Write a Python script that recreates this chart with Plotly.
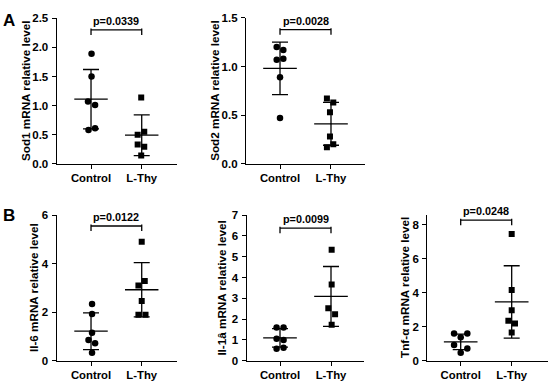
import plotly.graph_objects as go

# ---------------- data ----------------
groups = ["Control", "L-Thy"]

sod1_control = [1.89, 1.50, 1.07, 1.01, 0.58, 0.61]
sod1_lthy = [1.14, 0.55, 0.50, 0.33, 0.29, 0.14]
sod1_mean = [1.11, 0.49]
sod1_sd = [0.51, 0.35]

sod2_control = [1.20, 1.17, 1.07, 1.08, 0.89, 0.47]
sod2_lthy = [0.67, 0.63, 0.53, 0.28, 0.20, 0.17]
sod2_mean = [0.98, 0.41]
sod2_sd = [0.27, 0.22]

il6_control = [2.34, 1.93, 1.16, 0.86, 0.72, 0.33]
il6_lthy = [4.91, 3.29, 3.11, 2.47, 1.90, 1.90]
il6_mean = [1.22, 2.93]
il6_sd = [0.76, 1.12]

il1_control = [1.60, 1.60, 1.06, 1.00, 0.58, 0.62]
il1_lthy = [5.33, 3.66, 2.52, 2.24, 1.73]
il1_mean = [1.10, 3.09]
il1_sd = [0.44, 1.44]

tnf_control = [1.61, 1.61, 1.38, 0.93, 0.72, 0.47]
tnf_lthy = [7.45, 4.16, 2.97, 2.36, 2.19, 1.66]
tnf_mean = [1.11, 3.46]
tnf_sd = [0.46, 2.13]

p_values = ["p=0.0339", "p=0.0028", "p=0.0122", "p=0.0099", "p=0.0248"]
y_titles = ["Sod1 mRNA relative level", "Sod2 mRNA relative level",
            "Il-6 mRNA relative level", "Il-1â mRNA relative level",
            "Tnf-α mRNA relative level"]

# horizontal spread of overlapping dots (category units)
sod1_jit_c = [0.01, 0.01, -0.06, 0.08, -0.05, 0.08]
sod1_jit_l = [-0.01, 0.05, -0.08, -0.08, 0.05, -0.01]
sod2_jit_c = [-0.065, 0.065, -0.065, 0.065, 0.0, 0.0]
sod2_jit_l = [-0.08, 0.045, -0.02, -0.02, 0.045, -0.08]
il6_jit_c = [0.02, 0.02, 0.02, -0.05, 0.08, 0.02]
il6_jit_l = [0.0, 0.06, -0.065, 0.0, -0.065, 0.075]
il1_jit_c = [-0.067, 0.07, -0.067, 0.07, -0.067, 0.07]
il1_jit_l = [0.013, 0.013, -0.053, 0.08, 0.013]
tnf_jit_c = [-0.13, 0.13, 0.0, -0.13, 0.13, 0.0]
tnf_jit_l = [0.0, 0.0, 0.0, -0.065, 0.065, 0.0]

# ---------------- figure ----------------
W, H = 550, 391
FONT = "Arial, Liberation Sans, Helvetica, sans-serif"


def px_x(p):
    return p / W


def px_y(p):
    return 1 - p / H


panels = [
    dict(c=sod1_control, l=sod1_lthy, m=sod1_mean, s=sod1_sd, jc=sod1_jit_c, jl=sod1_jit_l,
         xd=(56.7, 176.7), yd=(12.7, 162.7), yr=(0, 2.5), dt=0.5, fmt=".1f",
         xr=(-0.677, 1.69), br=0.92, tx=0.98, title_x=25),
    dict(c=sod2_control, l=sod2_lthy, m=sod2_mean, s=sod2_sd, jc=sod2_jit_c, jl=sod2_jit_l,
         xd=(246, 365), yd=(12.3, 162.7), yr=(0, 1.5), dt=0.5, fmt=".1f",
         xr=(-0.667, 1.667), br=0.92, tx=0.98, title_x=215),
    dict(c=il6_control, l=il6_lthy, m=il6_mean, s=il6_sd, jc=il6_jit_c, jl=il6_jit_l,
         xd=(56.7, 176.7), yd=(216, 366), yr=(0, 6), dt=2, fmt="d",
         xr=(-0.677, 1.69), br=0.927, tx=0.987, title_x=33),
    dict(c=il1_control, l=il1_lthy, m=il1_mean, s=il1_sd, jc=il1_jit_c, jl=il1_jit_l,
         xd=(246.7, 364.3), yd=(215.7, 366), yr=(0, 7), dt=1, fmt="d",
         xr=(-0.653, 1.653), br=0.91, tx=0.97, title_x=221.7),
    dict(c=tnf_control, l=tnf_lthy, m=tnf_mean, s=tnf_sd, jc=tnf_jit_c, jl=tnf_jit_l,
         xd=(427.3, 548.3), yd=(215.7, 366), yr=(0, 8.57), dt=2, fmt="d",
         xr=(-0.655, 1.718), br=0.965, tx=1.03, title_x=405),
]

fig = go.Figure()
shapes = []
annotations = []

for i, p in enumerate(panels):
    k = "" if i == 0 else str(i + 1)
    xa, ya = "x" + k, "y" + k
    # dots
    fig.add_trace(go.Scatter(
        x=[0 + j for j in p["jc"]], y=p["c"], mode="markers", xaxis=xa, yaxis=ya,
        marker=dict(symbol="circle", size=6.5, color="black"), showlegend=False, hoverinfo="y"))
    fig.add_trace(go.Scatter(
        x=[1 + j for j in p["jl"]], y=p["l"], mode="markers", xaxis=xa, yaxis=ya,
        marker=dict(symbol="square", size=6, color="black"), showlegend=False, hoverinfo="y"))
    # mean lines
    mx, my = [], []
    for g in range(2):
        mx += [g - 0.33, g + 0.33, None]
        my += [p["m"][g], p["m"][g], None]
    fig.add_trace(go.Scatter(x=mx, y=my, mode="lines", xaxis=xa, yaxis=ya,
                             line=dict(color="black", width=1.3), showlegend=False,
                             hoverinfo="skip"))
    # SD error bars
    fig.add_trace(go.Scatter(
        x=[0, 1], y=p["m"], mode="markers", xaxis=xa, yaxis=ya,
        marker=dict(size=1, color="black"),
        error_y=dict(type="data", array=p["s"], visible=True, color="black",
                     thickness=1.3, width=8),
        showlegend=False, hoverinfo="skip"))

    layout_x = dict(domain=[px_x(p["xd"][0]), px_x(p["xd"][1])], range=list(p["xr"]),
                    tickmode="array", tickvals=[0, 1], ticktext=groups,
                    showgrid=False, zeroline=False, showline=True, linecolor="black",
                    linewidth=1.3, ticks="outside", ticklen=4, tickwidth=1.3,
                    tickcolor="black", anchor=ya,
                    tickfont=dict(family=FONT, size=11.3, color="black", weight="bold"))
    layout_y = dict(domain=[px_y(p["yd"][1]), px_y(p["yd"][0])], range=list(p["yr"]),
                    dtick=p["dt"], tick0=0, tickformat=p["fmt"],
                    showgrid=False, zeroline=False, showline=True, linecolor="black",
                    linewidth=1.3, ticks="outside", ticklen=4, tickwidth=1.3,
                    tickcolor="black", anchor=xa, ticklabelstandoff=1,
                    tickfont=dict(family=FONT, size=11.5, color="black", weight="bold"))
    fig.update_layout(**{"xaxis" + k: layout_x, "yaxis" + k: layout_y})

    # significance bracket
    yd_ref = ya + " domain"
    leg = 0.035
    shapes.append(dict(type="line", xref=xa, yref=yd_ref, x0=0, x1=1, y0=p["br"], y1=p["br"],
                       line=dict(color="black", width=1.3)))
    for g in range(2):
        shapes.append(dict(type="line", xref=xa, yref=yd_ref, x0=g, x1=g,
                           y0=p["br"] + 0.01, y1=p["br"] - leg,
                           line=dict(color="black", width=1.3)))
    annotations.append(dict(text=p_values[i], xref=xa, yref=yd_ref, x=0.5, y=p["tx"],
                            showarrow=False, yanchor="middle", xanchor="center",
                            font=dict(family=FONT, size=10.8, color="black", weight="bold")))
    # y-axis title
    yc = px_y((p["yd"][0] + p["yd"][1]) / 2)
    annotations.append(dict(text=y_titles[i], xref="paper", yref="paper",
                            x=px_x(p["title_x"]), y=yc, textangle=-90, showarrow=False,
                            xanchor="center", yanchor="middle",
                            font=dict(family=FONT, size=11.7, color="black", weight="bold")))

# panel letters
annotations.append(dict(text="A", xref="paper", yref="paper", x=px_x(9), y=px_y(15),
                        showarrow=False, xanchor="center", yanchor="middle",
                        font=dict(family=FONT, size=17, color="black", weight="bold")))
annotations.append(dict(text="B", xref="paper", yref="paper", x=px_x(9), y=px_y(216),
                        showarrow=False, xanchor="center", yanchor="middle",
                        font=dict(family=FONT, size=17, color="black", weight="bold")))

fig.update_layout(width=W, height=H, margin=dict(l=0, r=0, t=0, b=0),
                  paper_bgcolor="white", plot_bgcolor="white",
                  shapes=shapes, annotations=annotations, showlegend=False)

fig.write_html("out.html", config={"displayModeBar": False},
               post_script="document.body.style.margin='0';document.body.style.padding='0';")
